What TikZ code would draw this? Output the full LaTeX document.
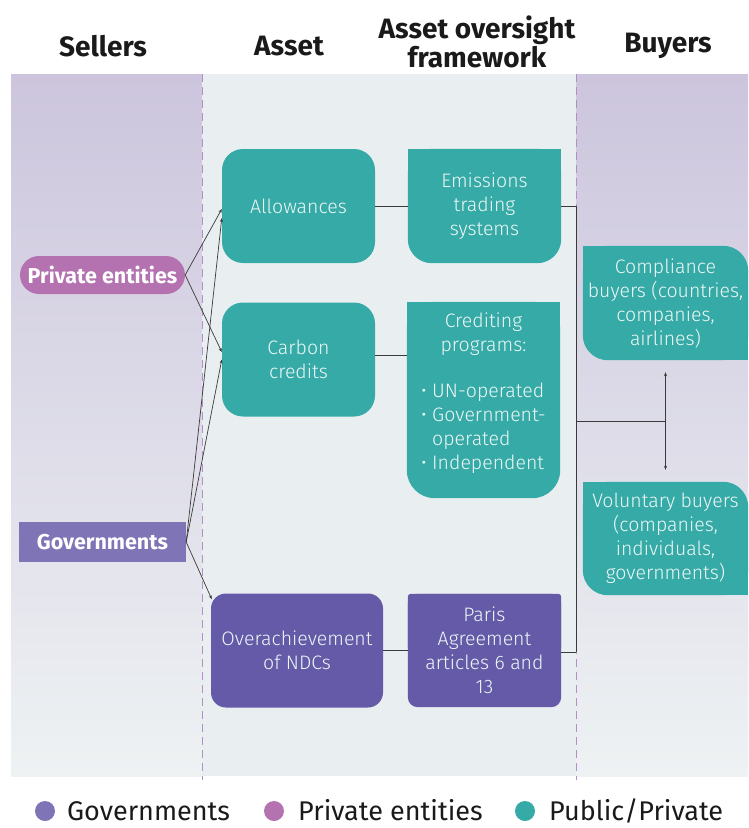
\documentclass[tikz,border=0pt]{standalone}
\usepackage{fontspec}
\setmainfont{Fira Sans}
\newfontfamily\lightfont{Fira Sans Light}
\usetikzlibrary{arrows.meta}
\pgfdeclarelayer{panel}
\pgfdeclarelayer{boxfill}
\pgfsetlayers{panel,boxfill,main}
\definecolor{tealbox}{HTML}{35AAA6}
\definecolor{privpink}{HTML}{B472B0}
\definecolor{govlight}{HTML}{7F74B6}
\definecolor{govdark}{HTML}{645AA8}
\definecolor{boxtext}{HTML}{EEF8F7}
\definecolor{sidetop}{HTML}{CCC5DD}
\definecolor{sidemid}{HTML}{DFD4E0}
\definecolor{sidebot}{HTML}{EEF2F3}
\definecolor{midpanel}{HTML}{E9EEF1}
\definecolor{dashcol}{HTML}{B48FC6}
\definecolor{linecol}{HTML}{3A3A3A}
\definecolor{inkcol}{HTML}{1A1A1A}
\begin{document}
\begin{tikzpicture}[x=1pt,y=-1pt,
  head/.style={font=\bfseries\fontsize{28}{26}\selectfont, text=inkcol, align=center, inner sep=0pt},
  box/.style={text=boxtext, font=\lightfont\fontsize{19.5}{24}\selectfont, align=center, inner sep=0pt},
  ast/.style={box, fill=tealbox, rounded corners=21pt, minimum width=153pt, minimum height=114pt},
  frame/.style={box, minimum width=153pt, minimum height=114pt},
  seller/.style={font=\bfseries\fontsize{21.5}{24}\selectfont, text=white, inner sep=0pt, minimum height=39pt},
  link/.style={linecol, line width=0.7pt},
  flow/.style={link, -{Stealth[length=4pt,width=3pt]}},
  divider/.style={dashcol, line width=1pt, dash pattern=on 8pt off 5pt},
  legdot/.style={circle, minimum size=20pt, inner sep=0pt},
  legtext/.style={anchor=base west, inner sep=0pt, text=inkcol, font=\fontsize{27}{30}\selectfont}]
  \useasboundingbox (0,0) rectangle (748,828);

  % panels
  \begin{pgfonlayer}{panel}
    \shade[top color=sidetop, middle color=sidemid, bottom color=sidebot] (11,74) rectangle (202,776);
    \shade[top color=sidetop, middle color=sidemid, bottom color=sidebot] (576,74) rectangle (748,776);
    \fill[midpanel] (202,74) rectangle (576,776);
    \draw[divider] (202,74) -- (202,780);
    \draw[divider] (576,74) -- (576,780);
  \end{pgfonlayer}

  % headers
  \node[head] (hsel) at (103,46) {Sellers};
  \node[head] (hast) at (289,46) {Asset};
  \node[head] (hfrm) at (477,42) {Asset oversight\\framework};
  \node[head] (hbuy) at (668,46) {Buyers};

  % sellers
  \node[seller, fill=privpink, rounded corners=19pt, minimum width=165pt, minimum height=38pt] (priv) at (102.5,275) {Private entities};
  \node[seller, fill=govlight, minimum width=167pt, minimum height=40pt] (gov) at (102.5,542) {Governments};

  % assets
  \node[ast] (alw) at (298.5,206) {Allowances};
  \node[ast] (crd) at (298.5,359.5) {Carbon\\credits};
  \node[ast, fill=govdark, rounded corners=15pt, minimum width=172pt] (ndc) at (297,650.5) {Overachievement\\of NDCs};

  % frameworks
  \node[frame] (ets) at (484.5,206) {Emissions\\trading\\systems};
  \node[frame, minimum height=196pt] (prog) at (483.5,400) {Crediting\\programs:\\[24pt]
    \begin{tabular}{@{}l@{}}\textbullet\ UN-operated\\\textbullet\ Government-\\\phantom{\textbullet\ }operated\\\textbullet\ Independent\rule[-17pt]{0pt}{17pt}\end{tabular}};
  \node[frame, minimum height=113pt] (paris) at (484.5,650.5) {Paris\\Agreement\\articles 6 and\\13};

  % buyers
  \node[frame, minimum width=165pt] (comp) at (665.5,303) {Compliance\\buyers (countries,\\companies,\\airlines)};
  \node[frame, minimum width=165pt, minimum height=113pt] (vol) at (665.5,538.5) {Voluntary buyers\\(companies,\\individuals,\\governments)};

  \begin{pgfonlayer}{boxfill}
    \fill[tealbox, rounded corners=24pt] (ets.south west) rectangle (ets.north east);
    \fill[tealbox] (ets.west) rectangle (ets.north east);
    \fill[tealbox, rounded corners=28pt] (prog.south west) rectangle (prog.north east);
    \fill[tealbox] (prog.west) rectangle (prog.north east);
    \fill[govdark, rounded corners=10pt] (paris.south west) rectangle (paris.north east);
    \fill[govdark, rounded corners=3pt] (paris.west) rectangle (paris.north east);
    \fill[govdark] (paris.west) rectangle (paris.center);
    \fill[govdark] (paris.center) rectangle (paris.east);
    \foreach \b in {comp,vol}{
      \fill[tealbox, rounded corners=25pt] (\b.south west) rectangle (\b.north east);
      \fill[tealbox] (\b.north west) rectangle (\b.center);
      \fill[tealbox] (\b.center) rectangle (\b.south east);
    }
  \end{pgfonlayer}

  % seller arrows
  \draw[flow] (priv.east) -- ([yshift=-3pt]alw.west);
  \draw[flow] (priv.east) -- ([yshift=7.5pt]crd.west);
  \draw[flow] (gov.east) -- ([yshift=-12pt]alw.west);
  \draw[flow] (gov.east) -- (crd.west);
  \draw[flow] (gov.east) -- ([yshift=-6pt,xshift=1pt]ndc.north west);

  % asset to framework
  \draw[link] (alw) -- (ets);
  \draw[link] ([yshift=4pt]crd.east) -- ([yshift=4pt]crd.east -| prog.west);
  \draw[link] (ndc) -- (paris);

  % bus to buyers
  \coordinate (busT) at (576,206);
  \coordinate (busB) at (576,652);
  \coordinate (busM) at (576,421);
  \coordinate (fork) at (comp.south |- busM);
  \draw[link] (ets.east) -- (busT) -- (busB);
  \draw[link] (paris.east |- busB) -- (busB);
  \draw[link] (busM) -- (fork);
  \draw[flow] (fork) -- ([yshift=-12pt]comp.south);
  \draw[flow] (fork) -- ([yshift=12pt]vol.north);

  % legend
  \node[legdot, fill=govlight] (dgov) at (45,811) {};
  \node[legtext] (tgov) at (67,820) {Governments};
  \node[legdot, fill=privpink] (dpriv) at (274,811) {};
  \node[legtext] (tpriv) at (298,820) {Private entities};
  \node[legdot, fill=tealbox] (dpub) at (525,811) {};
  \node[legtext] (tpub) at (549,820) {Public/Private};
\end{tikzpicture}
\end{document}
